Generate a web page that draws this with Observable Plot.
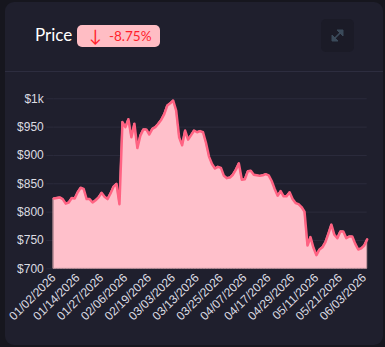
<!DOCTYPE html>
<html>
<head>
<meta charset="utf-8">
<script src="https://cdn.jsdelivr.net/npm/d3@7"></script>
<script src="https://cdn.jsdelivr.net/npm/@observablehq/plot@0.6"></script>
<style>
  html, body { margin: 0; padding: 0; width: 385px; height: 347px; overflow: hidden; background: #16161e; }
  .card { position: absolute; left: 5px; top: 2px; width: 378px; height: 343px; background: #1f1f2d; border-radius: 9px; }
  .sep { position: absolute; left: 5px; top: 70.5px; width: 378px; height: 1px; background: #2d2d3f; }
  .title { position: absolute; left: 35px; top: 23px; font: 17px Lato, sans-serif; color: #ffffff; line-height: 24px; }
  .badge { position: absolute; left: 77px; top: 25px; width: 83px; height: 22px; background: #ffbdc4; border-radius: 5px;
           color: #ff1e2a; font: 13.5px Lato, sans-serif; line-height: 22px; white-space: nowrap; }
  .badge .arrow { position: absolute; left: 12px; top: 0; font-size: 17px; }
  .badge .pct { position: absolute; left: 32px; top: 0; }
  .expand { position: absolute; left: 321px; top: 19px; width: 33px; height: 33px; background: #1b1b27; border-radius: 5px; }
  #chart { position: absolute; left: 0; top: 0; }
</style>
</head>
<body>
<div class="card"></div>
<div class="sep"></div>
<div class="title">Price</div>
<div class="badge"><span class="arrow">↓</span><span class="pct" id="pct"></span></div>
<div class="expand">
  <svg width="33" height="33" viewBox="0 0 33 33">
    <g fill="#3b4a5a" stroke="#3b4a5a" stroke-width="1.6">
      <line x1="14" y1="19" x2="19" y2="14"/>
      <path d="M16 11 L22 11 L22 17 Z" stroke-width="1"/>
      <path d="M11 16 L11 22 L17 22 Z" stroke-width="1"/>
    </g>
  </svg>
</div>
<div id="chart"></div>
<script>
// Daily closing price, one value per trading day (01/02/2026 – 06/04/2026)
const prices = [
  824, 825, 826, 823, 815, 817, 825, 824, 835, 843,
  841, 823, 823, 817, 821, 826, 834, 827, 823, 833,
  845, 850, 814, 959, 950, 964, 932, 956, 913, 935,
  946, 946, 937, 947, 950, 956, 963, 973, 988, 992,
  997, 979, 932, 918, 944, 928, 936, 944, 941, 943,
  941, 922, 898, 885, 877, 880, 878, 864, 860, 861,
  866, 875, 886, 857, 858, 872, 873, 866, 865, 864,
  865, 867, 865, 855, 841, 829, 837, 828, 828, 835,
  823, 816, 814, 809, 801, 741, 756, 737, 724, 734,
  738, 747, 762, 778, 760, 754, 766, 766, 754, 757,
  757, 744, 734, 736, 741, 751.9
];

// Axis labels: every 8th trading day
const tickLabels = [
  "01/02/2026", "01/14/2026", "01/27/2026", "02/06/2026", "02/19/2026",
  "03/03/2026", "03/13/2026", "03/25/2026", "04/07/2026", "04/17/2026",
  "04/29/2026", "05/11/2026", "05/21/2026", "06/03/2026"
];
const tickStep = 8;

const yTicks = [700, 750, 800, 850, 900, 950, 1000];

const data = prices.map((price, i) => ({i, price}));
const xTicks = tickLabels.map((_, k) => k * tickStep);

const change = (prices[prices.length - 1] / prices[0] - 1) * 100;
document.getElementById("pct").textContent = change.toFixed(2) + "%";

const chart = Plot.plot({
  width: 385,
  height: 347,
  marginLeft: 53.3,
  marginRight: 18.3,
  marginTop: 98.3,
  marginBottom: 78.7,
  style: {
    background: "transparent",
    color: "#dcdce2",
    fontFamily: "'Liberation Sans', Arial, sans-serif",
    fontSize: "12px"
  },
  x: { domain: [0, prices.length - 1] },
  y: { domain: [700, 1000] },
  marks: [
    Plot.gridY(yTicks, { stroke: "#2b2b3c", strokeOpacity: 1 }),
    Plot.axisY(yTicks, {
      label: null,
      tickSize: 7,
      tickPadding: 3,
      stroke: "#2b2b3c",
      tickFormat: d => d >= 1000 ? "$" + d / 1000 + "k" : "$" + d
    }),
    Plot.axisX(xTicks, {
      label: null,
      tickSize: 0,
      tickPadding: 7,
      tickRotate: -45,
      tickFormat: i => tickLabels[i / tickStep]
    }),
    Plot.areaY(data, { x: "i", y1: 700, y2: "price", fill: "#ffc0cb", stroke: "#c99aa3", strokeWidth: 1 }),
    Plot.lineY(data, { x: "i", y: "price", stroke: "#ff6282", strokeWidth: 2.5 })
  ]
});
document.getElementById("chart").appendChild(chart);
</script>
</body>
</html>
